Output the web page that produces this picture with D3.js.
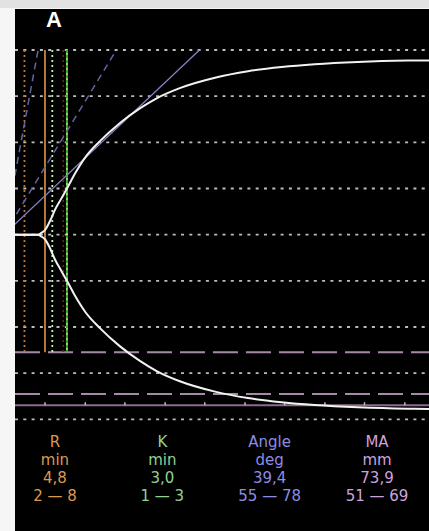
<!DOCTYPE html>
<html>
<head>
<meta charset="utf-8">
<script src="https://cdn.jsdelivr.net/npm/d3@7"></script>
<style>
  html, body { margin: 0; padding: 0; background: #ffffff; }
  svg { display: block; }
</style>
</head>
<body>
<script>
// ---------------- DATA ----------------
// TEG trace: time (min) and amplitude (mm), drawn symmetrically (+/-)
const traceTime = [0, 3.85, 4.3, 4.8, 5.5, 6.2, 7.0, 7.8, 8.9, 10.3, 12.3, 15.0, 17.8, 20.1, 23.2, 28.0, 32.5, 37.1, 41.6, 47.5, 54.3, 57.2];
const traceAmp  = [0, 0, 0.8, 2.0, 6.0, 11.0, 15.5, 20.0, 26.5, 33.5, 40.5, 48.3, 54.8, 59.2, 63.5, 68.0, 70.8, 72.6, 73.8, 74.8, 75.4, 75.5];

// vertical marker lines (time in min)
const markerTimes = [2.0, 4.8, 5.8, 7.3, 7.8];
const markerKinds = ["rRange", "r", "kRange", "dim", "k"];

// angle lines (degrees): measured 39.4, normal range 55–78
const angleDegs  = [39.4, 55, 78];
const angleKinds = ["value", "range", "range"];
const angleVertexTime = -0.8;   // where the angle lines meet the midline
const angleGain = 3.65;         // mm per min per unit tan(angle) on this chart

// MA (mm): value and normal range
const maValue = 73.9;
const maRange = [51, 69];
const maTickTimes = [4.8, 10.3, 15.7, 21.2, 26.6, 32.1, 37.5, 43.0, 48.4, 53.9];

// parameter table
const paramNames  = ["R", "K", "Angle", "MA"];
const paramUnits  = ["min", "min", "deg", "mm"];
const paramValues = ["4,8", "3,0", "39,4", "73,9"];
const paramRanges = ["2 — 8", "1 — 3", "55 — 78", "51 — 69"];

const panelLabel = "A";

// ---------------- LAYOUT / STYLE ----------------
const W = 429, H = 531;
const panel = { x: 15, y: 9, w: W - 15, h: H - 9 };
const paramColors = ["#dc9a4c", "#90d290", "#8c8ce6", "#cda2dc"];

const svg = d3.select("body").append("svg")
  .attr("width", W).attr("height", H);

svg.append("rect").attr("x", 0).attr("y", 0).attr("width", W).attr("height", H).attr("fill", "#f6f6f6");
svg.append("rect").attr("x", 0).attr("y", 0).attr("width", W).attr("height", 8).attr("fill", "#e2e2e2");
svg.append("rect").attr("x", panel.x).attr("y", panel.y).attr("width", panel.w).attr("height", panel.h).attr("fill", "#000");

svg.append("defs").append("clipPath").attr("id", "clip")
  .append("rect").attr("x", panel.x).attr("y", panel.y).attr("width", panel.w).attr("height", panel.h);

const x = d3.scaleLinear().domain([0, 57.2]).range([9.8, 429]);
const y = d3.scaleLinear().domain([-80, 80]).range([419.3, 50]);

const g = svg.append("g").attr("clip-path", "url(#clip)");

// grid lines (dotted)
g.selectAll("line.grid").data(y.ticks(8)).enter().append("line")
  .attr("class", "grid")
  .attr("x1", panel.x).attr("x2", W)
  .attr("y1", d => y(d)).attr("y2", d => y(d))
  .attr("stroke", "#bcbcbc").attr("stroke-width", 1.8)
  .attr("stroke-dasharray", "3,5.3");

// MA normal range dashed lines (bottom side)
g.selectAll("line.marange").data(maRange).enter().append("line")
  .attr("x1", panel.x).attr("x2", W)
  .attr("y1", d => y(-d)).attr("y2", d => y(-d))
  .attr("stroke", "#a58aa8").attr("stroke-width", 2)
  .attr("stroke-dasharray", "25,8");

// MA solid line with ticks
g.append("line")
  .attr("x1", panel.x).attr("x2", W)
  .attr("y1", y(-maValue)).attr("y2", y(-maValue))
  .attr("stroke", "#8c6c8e").attr("stroke-width", 2);
g.selectAll("line.matick").data(maTickTimes).enter().append("line")
  .attr("x1", d => x(d)).attr("x2", d => x(d))
  .attr("y1", y(-maValue) - 3).attr("y2", y(-maValue))
  .attr("stroke", "#c8b4c8").attr("stroke-width", 1.5);

// vertical marker lines
const markerStyle = {
  rRange: { color: "#b8783c", width: 1.8, dash: "2,3" },
  r:      { color: "#c8843c", width: 1.8, dash: null },
  kRange: { color: "#c8f0b4", width: 1.8, dash: "2,3" },
  dim:    { color: "#6e2424", width: 1.6, dash: "2,3" },
  k:      { color: "#2fb02f", width: 2.0, dash: "3,2" }
};
const markers = markerTimes.map((t, i) => ({ t, kind: markerKinds[i] }));
g.selectAll("line.marker").data(markers).enter().append("line")
  .attr("x1", d => x(d.t)).attr("x2", d => x(d.t))
  .attr("y1", y(80)).attr("y2", y(-maRange[0]))
  .attr("stroke", d => markerStyle[d.kind].color)
  .attr("stroke-width", d => markerStyle[d.kind].width)
  .attr("stroke-dasharray", d => markerStyle[d.kind].dash);
// light dots between the K-line dashes
g.append("line")
  .attr("x1", x(markerTimes[4])).attr("x2", x(markerTimes[4]))
  .attr("y1", y(80) + 3).attr("y2", y(-maRange[0]))
  .attr("stroke", "#d8f08c").attr("stroke-width", 1.6)
  .attr("stroke-dasharray", "2,3");

// angle lines
const angleLines = angleDegs.map((deg, i) => {
  const slope = Math.tan(deg * Math.PI / 180) * angleGain; // mm per min
  return { kind: angleKinds[i], t0: angleVertexTime, a0: 0, t1: angleVertexTime + 80 / slope, a1: 80 };
});
g.selectAll("line.angle").data(angleLines).enter().append("line")
  .attr("x1", d => x(d.t0)).attr("y1", d => y(d.a0))
  .attr("x2", d => x(d.t1)).attr("y2", d => y(d.a1))
  .attr("stroke", d => d.kind === "value" ? "#8282c4" : "#6464a4")
  .attr("stroke-width", d => d.kind === "value" ? 1.3 : 1.5)
  .attr("stroke-dasharray", d => d.kind === "value" ? null : "7,5");

// trace (upper and lower)
const pts = traceTime.map((t, i) => ({ t, a: traceAmp[i] }));
const upper = d3.line().x(d => x(d.t)).y(d => y(d.a)).curve(d3.curveMonotoneX);
const lower = d3.line().x(d => x(d.t)).y(d => y(-d.a)).curve(d3.curveMonotoneX);
g.append("path").datum(pts).attr("d", upper)
  .attr("fill", "none").attr("stroke", "#f2f2f2").attr("stroke-width", 2);
g.append("path").datum(pts).attr("d", lower)
  .attr("fill", "none").attr("stroke", "#f2f2f2").attr("stroke-width", 2);

// panel label
svg.append("text").attr("x", 54).attr("y", 27)
  .attr("text-anchor", "middle")
  .attr("font-family", "Liberation Sans, Arial, sans-serif")
  .attr("font-weight", "bold").attr("font-size", 22)
  .attr("fill", "#ffffff").text(panelLabel);

// parameter table
const col = d3.scalePoint().domain(paramNames).range([55, 377]);
const rows = [paramNames, paramUnits, paramValues, paramRanges];
const rowY = [447, 465, 483, 501];
rows.forEach((row, r) => {
  svg.selectAll("text.row" + r).data(row).enter().append("text")
    .attr("x", (d, i) => col(paramNames[i]))
    .attr("y", rowY[r])
    .attr("text-anchor", "middle")
    .attr("font-family", "DejaVu Sans, Verdana, sans-serif")
    .attr("font-size", 15)
    .attr("fill", (d, i) => paramColors[i])
    .text(d => d);
});
</script>
</body>
</html>
